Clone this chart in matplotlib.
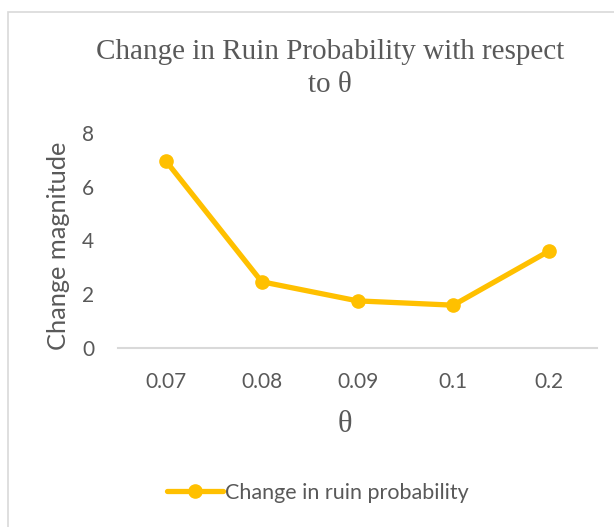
import matplotlib
matplotlib.use("Agg")
import matplotlib.pyplot as plt
from matplotlib.patches import Rectangle

# Data
theta_labels = ["0.07", "0.08", "0.09", "0.1", "0.2"]
change_values = [6.95, 2.47, 1.76, 1.60, 3.61]
y_ticks = [0, 2, 4, 6, 8]

W, H = 614, 527
fig = plt.figure(figsize=(W / 100, H / 100), dpi=100)
fig.patch.set_facecolor("white")

# Chart-area border
fig.patches.append(Rectangle((8 / W, -0.01), 1.0, 1 - 12 / H + 0.01,
                             transform=fig.transFigure, fill=False,
                             edgecolor="#D9D9D9", linewidth=1.2))

text_col = "#595959"
sans = ["Lato", "DejaVu Sans"]
serif = ["Liberation Serif", "DejaVu Serif"]

ax = fig.add_axes([118 / W, 1 - 348.3 / H, (597 - 118) / W, (348.3 - 132.7) / H])
x = list(range(len(theta_labels)))
line, = ax.plot(x, change_values, color="#FFC000", linewidth=3.8,
                marker="o", markersize=9.5, solid_capstyle="round",
                label="Change in ruin probability")

ax.set_xlim(-0.5, len(theta_labels) - 0.5)
ax.set_ylim(0, 8)
ax.set_yticks(y_ticks)
ax.set_xticks(x)
ax.set_xticklabels(theta_labels)
for s in ["top", "right", "left"]:
    ax.spines[s].set_visible(False)
ax.spines["bottom"].set_color("#D9D9D9")
ax.spines["bottom"].set_linewidth(1.5)
ax.tick_params(axis="both", length=0, colors=text_col, labelsize=15)
ax.tick_params(axis="x", pad=17)
ax.tick_params(axis="y", pad=17)
for lbl in ax.get_xticklabels() + ax.get_yticklabels():
    lbl.set_family(sans)

fig.text(58.5 / W, 1 - 246 / H, "Change magnitude", rotation=90,
         ha="center", va="center", family=sans, fontsize=18.3, color=text_col)

fig.text(330 / W, 1 - 52 / H, "Change in Ruin Probability with respect",
         ha="center", va="center", family=serif, fontsize=21, color=text_col)
fig.text(330 / W, 1 - 85 / H, "to \u03b8",
         ha="center", va="center", family=serif, fontsize=21, color=text_col)
fig.text(345 / W, 1 - 424 / H, "\u03b8",
         ha="center", va="center", family=serif, fontsize=22, color=text_col)

leg = fig.legend(handles=[line], loc="center", bbox_to_anchor=(318 / W, 1 - 493 / H),
                 frameon=False, prop={"family": sans, "size": 15.5},
                 handlelength=2.6, handletextpad=0.1, labelcolor=text_col)

fig.savefig("out.png", dpi=100, facecolor="white")
